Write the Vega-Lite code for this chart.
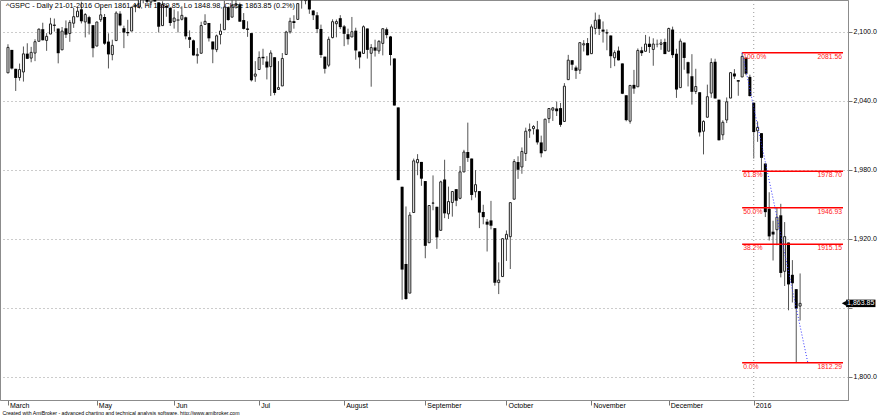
{
 "$schema": "https://vega.github.io/schema/vega-lite/v6.json",
 "width": 848, "height": 400,
 "autosize": "none",
 "padding": {"left": 0, "top": 0, "right": 32, "bottom": 15},
 "background": "white",
 "config": {"view": {"stroke": "#8c8c8c", "strokeWidth": 1}, "font": "Liberation Sans"},
 "datasets": {
  "bars": [
{"i":0,"d":"2015-03-30","o":2064.11,"h":2088.97,"l":2064.11,"c":2086.24},
{"i":1,"d":"2015-03-31","o":2084.05,"h":2084.05,"l":2067.04,"c":2067.89},
{"i":2,"d":"2015-04-01","o":2067.63,"h":2067.63,"l":2048.38,"c":2059.69},
{"i":3,"d":"2015-04-02","o":2060.03,"h":2072.17,"l":2057.32,"c":2066.96},
{"i":4,"d":"2015-04-06","o":2064.87,"h":2086.99,"l":2056.52,"c":2080.62},
{"i":5,"d":"2015-04-07","o":2080.79,"h":2089.81,"l":2076.10,"c":2076.33},
{"i":6,"d":"2015-04-08","o":2076.94,"h":2086.69,"l":2073.30,"c":2081.90},
{"i":7,"d":"2015-04-09","o":2081.29,"h":2093.31,"l":2074.29,"c":2091.18},
{"i":8,"d":"2015-04-10","o":2091.51,"h":2102.61,"l":2091.51,"c":2102.06},
{"i":9,"d":"2015-04-13","o":2102.03,"h":2107.65,"l":2092.33,"c":2092.43},
{"i":10,"d":"2015-04-14","o":2092.28,"h":2098.62,"l":2083.24,"c":2095.84},
{"i":11,"d":"2015-04-15","o":2097.82,"h":2111.91,"l":2097.82,"c":2106.63},
{"i":12,"d":"2015-04-16","o":2105.96,"h":2111.30,"l":2100.02,"c":2104.99},
{"i":13,"d":"2015-04-17","o":2102.58,"h":2102.58,"l":2072.37,"c":2081.18},
{"i":14,"d":"2015-04-20","o":2084.11,"h":2103.94,"l":2084.11,"c":2100.40},
{"i":15,"d":"2015-04-21","o":2102.82,"h":2109.64,"l":2094.38,"c":2097.29},
{"i":16,"d":"2015-04-22","o":2098.27,"h":2109.98,"l":2091.05,"c":2107.96},
{"i":17,"d":"2015-04-23","o":2107.21,"h":2120.49,"l":2103.19,"c":2112.93},
{"i":18,"d":"2015-04-24","o":2112.80,"h":2120.92,"l":2112.80,"c":2117.69},
{"i":19,"d":"2015-04-27","o":2119.29,"h":2125.92,"l":2107.04,"c":2108.92},
{"i":20,"d":"2015-04-28","o":2108.35,"h":2116.04,"l":2094.89,"c":2114.76},
{"i":21,"d":"2015-04-29","o":2112.49,"h":2113.65,"l":2097.41,"c":2106.85},
{"i":22,"d":"2015-04-30","o":2105.52,"h":2105.52,"l":2077.59,"c":2085.51},
{"i":23,"d":"2015-05-01","o":2087.38,"h":2108.41,"l":2087.38,"c":2108.29},
{"i":24,"d":"2015-05-04","o":2110.23,"h":2120.95,"l":2108.29,"c":2114.49},
{"i":25,"d":"2015-05-05","o":2112.63,"h":2115.24,"l":2088.46,"c":2089.46},
{"i":26,"d":"2015-05-06","o":2091.26,"h":2098.42,"l":2067.93,"c":2080.15},
{"i":27,"d":"2015-05-07","o":2079.96,"h":2092.90,"l":2074.99,"c":2088.00},
{"i":28,"d":"2015-05-08","o":2092.13,"h":2117.66,"l":2092.13,"c":2116.10},
{"i":29,"d":"2015-05-11","o":2115.56,"h":2117.69,"l":2104.58,"c":2105.33},
{"i":30,"d":"2015-05-12","o":2102.87,"h":2105.06,"l":2085.57,"c":2099.12},
{"i":31,"d":"2015-05-13","o":2099.62,"h":2110.19,"l":2096.04,"c":2098.48},
{"i":32,"d":"2015-05-14","o":2100.43,"h":2121.45,"l":2100.43,"c":2121.10},
{"i":33,"d":"2015-05-15","o":2122.07,"h":2123.89,"l":2116.81,"c":2122.73},
{"i":34,"d":"2015-05-18","o":2121.30,"h":2131.78,"l":2120.01,"c":2129.20},
{"i":35,"d":"2015-05-19","o":2129.45,"h":2133.02,"l":2124.50,"c":2127.83},
{"i":36,"d":"2015-05-20","o":2127.79,"h":2134.72,"l":2122.59,"c":2125.85},
{"i":37,"d":"2015-05-21","o":2125.55,"h":2134.28,"l":2122.95,"c":2130.82},
{"i":38,"d":"2015-05-22","o":2130.36,"h":2132.15,"l":2126.06,"c":2126.06},
{"i":39,"d":"2015-05-26","o":2125.34,"h":2125.34,"l":2099.18,"c":2104.20},
{"i":40,"d":"2015-05-27","o":2105.13,"h":2126.22,"l":2105.13,"c":2123.48},
{"i":41,"d":"2015-05-28","o":2122.27,"h":2122.27,"l":2112.86,"c":2120.79},
{"i":42,"d":"2015-05-29","o":2120.66,"h":2120.66,"l":2104.89,"c":2107.39},
{"i":43,"d":"2015-06-01","o":2108.64,"h":2119.15,"l":2102.54,"c":2111.73},
{"i":44,"d":"2015-06-02","o":2110.41,"h":2117.59,"l":2099.14,"c":2109.60},
{"i":45,"d":"2015-06-03","o":2110.64,"h":2121.92,"l":2109.61,"c":2114.07},
{"i":46,"d":"2015-06-04","o":2112.35,"h":2112.89,"l":2093.23,"c":2095.84},
{"i":47,"d":"2015-06-05","o":2095.09,"h":2100.99,"l":2085.67,"c":2092.83},
{"i":48,"d":"2015-06-08","o":2092.34,"h":2093.01,"l":2079.11,"c":2079.28},
{"i":49,"d":"2015-06-09","o":2079.07,"h":2085.62,"l":2072.14,"c":2080.15},
{"i":50,"d":"2015-06-10","o":2081.12,"h":2108.50,"l":2081.12,"c":2105.20},
{"i":51,"d":"2015-06-11","o":2106.24,"h":2115.02,"l":2106.24,"c":2108.86},
{"i":52,"d":"2015-06-12","o":2107.43,"h":2107.43,"l":2091.33,"c":2094.11},
{"i":53,"d":"2015-06-15","o":2091.34,"h":2091.34,"l":2072.49,"c":2084.43},
{"i":54,"d":"2015-06-16","o":2084.26,"h":2097.40,"l":2082.10,"c":2096.29},
{"i":55,"d":"2015-06-17","o":2097.40,"h":2106.79,"l":2088.86,"c":2100.44},
{"i":56,"d":"2015-06-18","o":2101.58,"h":2126.65,"l":2101.58,"c":2121.24},
{"i":57,"d":"2015-06-19","o":2121.06,"h":2121.64,"l":2109.45,"c":2109.99},
{"i":58,"d":"2015-06-22","o":2112.50,"h":2129.87,"l":2112.50,"c":2122.85},
{"i":59,"d":"2015-06-23","o":2123.16,"h":2128.03,"l":2119.89,"c":2124.20},
{"i":60,"d":"2015-06-24","o":2123.65,"h":2125.10,"l":2108.58,"c":2108.58},
{"i":61,"d":"2015-06-25","o":2109.96,"h":2116.04,"l":2101.78,"c":2102.31},
{"i":62,"d":"2015-06-26","o":2102.62,"h":2108.92,"l":2095.38,"c":2101.49},
{"i":63,"d":"2015-06-29","o":2098.63,"h":2098.63,"l":2056.64,"c":2057.64},
{"i":64,"d":"2015-06-30","o":2061.19,"h":2074.28,"l":2056.32,"c":2063.11},
{"i":65,"d":"2015-07-01","o":2067.00,"h":2082.78,"l":2067.00,"c":2077.42},
{"i":66,"d":"2015-07-02","o":2078.03,"h":2085.06,"l":2071.02,"c":2076.78},
{"i":67,"d":"2015-07-06","o":2073.95,"h":2078.61,"l":2058.40,"c":2068.76},
{"i":68,"d":"2015-07-07","o":2069.52,"h":2083.74,"l":2044.02,"c":2081.34},
{"i":69,"d":"2015-07-08","o":2077.66,"h":2077.66,"l":2044.66,"c":2046.68},
{"i":70,"d":"2015-07-09","o":2049.73,"h":2074.28,"l":2049.73,"c":2051.31},
{"i":71,"d":"2015-07-10","o":2052.74,"h":2081.31,"l":2052.74,"c":2076.62},
{"i":72,"d":"2015-07-13","o":2080.03,"h":2100.67,"l":2080.03,"c":2099.60},
{"i":73,"d":"2015-07-14","o":2099.72,"h":2111.98,"l":2098.18,"c":2108.95},
{"i":74,"d":"2015-07-15","o":2109.01,"h":2114.14,"l":2102.49,"c":2107.40},
{"i":75,"d":"2015-07-16","o":2110.55,"h":2124.42,"l":2110.55,"c":2124.29},
{"i":76,"d":"2015-07-17","o":2126.80,"h":2128.91,"l":2119.88,"c":2126.64},
{"i":77,"d":"2015-07-20","o":2126.85,"h":2132.82,"l":2123.66,"c":2128.28},
{"i":78,"d":"2015-07-21","o":2127.55,"h":2128.48,"l":2115.40,"c":2119.21},
{"i":79,"d":"2015-07-22","o":2118.21,"h":2118.51,"l":2110.00,"c":2114.15},
{"i":80,"d":"2015-07-23","o":2114.16,"h":2116.87,"l":2098.63,"c":2102.15},
{"i":81,"d":"2015-07-24","o":2102.24,"h":2106.01,"l":2077.09,"c":2079.65},
{"i":82,"d":"2015-07-27","o":2078.19,"h":2078.19,"l":2063.52,"c":2067.64},
{"i":83,"d":"2015-07-28","o":2070.75,"h":2095.60,"l":2069.09,"c":2093.25},
{"i":84,"d":"2015-07-29","o":2094.70,"h":2110.60,"l":2094.08,"c":2108.57},
{"i":85,"d":"2015-07-30","o":2106.78,"h":2110.48,"l":2094.97,"c":2108.63},
{"i":86,"d":"2015-07-31","o":2111.60,"h":2114.24,"l":2102.07,"c":2103.84},
{"i":87,"d":"2015-08-03","o":2104.49,"h":2105.70,"l":2087.31,"c":2098.04},
{"i":88,"d":"2015-08-04","o":2097.68,"h":2102.51,"l":2088.60,"c":2093.32},
{"i":89,"d":"2015-08-05","o":2095.27,"h":2112.66,"l":2095.27,"c":2099.84},
{"i":90,"d":"2015-08-06","o":2100.75,"h":2103.32,"l":2075.53,"c":2083.56},
{"i":91,"d":"2015-08-07","o":2082.61,"h":2082.61,"l":2067.91,"c":2077.57},
{"i":92,"d":"2015-08-10","o":2080.98,"h":2105.35,"l":2080.98,"c":2104.18},
{"i":93,"d":"2015-08-11","o":2102.66,"h":2102.66,"l":2076.49,"c":2084.07},
{"i":94,"d":"2015-08-12","o":2081.10,"h":2089.06,"l":2052.09,"c":2086.05},
{"i":95,"d":"2015-08-13","o":2086.19,"h":2092.93,"l":2078.26,"c":2083.39},
{"i":96,"d":"2015-08-14","o":2083.15,"h":2092.45,"l":2080.61,"c":2091.54},
{"i":97,"d":"2015-08-17","o":2089.70,"h":2102.87,"l":2079.30,"c":2102.44},
{"i":98,"d":"2015-08-18","o":2101.99,"h":2103.47,"l":2094.14,"c":2096.92},
{"i":99,"d":"2015-08-19","o":2095.69,"h":2096.17,"l":2070.53,"c":2079.61},
{"i":100,"d":"2015-08-20","o":2076.61,"h":2076.61,"l":2035.73,"c":2035.73},
{"i":101,"d":"2015-08-21","o":2034.08,"h":2034.08,"l":1970.89,"c":1970.89},
{"i":102,"d":"2015-08-24","o":1965.15,"h":1965.15,"l":1867.01,"c":1893.21},
{"i":103,"d":"2015-08-25","o":1898.08,"h":1948.04,"l":1867.08,"c":1867.61},
{"i":104,"d":"2015-08-26","o":1872.75,"h":1943.09,"l":1872.75,"c":1940.51},
{"i":105,"d":"2015-08-27","o":1942.77,"h":1989.60,"l":1942.77,"c":1987.66},
{"i":106,"d":"2015-08-28","o":1986.06,"h":1993.48,"l":1975.19,"c":1988.87},
{"i":107,"d":"2015-08-31","o":1986.73,"h":1986.73,"l":1965.98,"c":1972.18},
{"i":108,"d":"2015-09-01","o":1970.09,"h":1970.09,"l":1903.07,"c":1913.85},
{"i":109,"d":"2015-09-02","o":1916.52,"h":1948.91,"l":1916.52,"c":1948.86},
{"i":110,"d":"2015-09-03","o":1950.79,"h":1975.01,"l":1944.72,"c":1951.13},
{"i":111,"d":"2015-09-04","o":1947.76,"h":1947.76,"l":1911.21,"c":1921.22},
{"i":112,"d":"2015-09-08","o":1927.30,"h":1970.42,"l":1927.30,"c":1969.41},
{"i":113,"d":"2015-09-09","o":1971.45,"h":1988.63,"l":1937.88,"c":1942.04},
{"i":114,"d":"2015-09-10","o":1941.59,"h":1965.29,"l":1937.19,"c":1952.29},
{"i":115,"d":"2015-09-11","o":1951.45,"h":1961.05,"l":1939.19,"c":1961.05},
{"i":116,"d":"2015-09-14","o":1963.06,"h":1963.06,"l":1948.27,"c":1953.03},
{"i":117,"d":"2015-09-15","o":1955.10,"h":1983.19,"l":1954.30,"c":1978.09},
{"i":118,"d":"2015-09-16","o":1978.02,"h":1997.26,"l":1977.93,"c":1995.31},
{"i":119,"d":"2015-09-17","o":1995.33,"h":2020.86,"l":1986.73,"c":1990.20},
{"i":120,"d":"2015-09-18","o":1989.66,"h":1989.66,"l":1953.45,"c":1958.03},
{"i":121,"d":"2015-09-21","o":1960.84,"h":1979.64,"l":1955.80,"c":1966.97},
{"i":122,"d":"2015-09-22","o":1961.39,"h":1961.39,"l":1929.22,"c":1942.74},
{"i":123,"d":"2015-09-23","o":1943.24,"h":1949.52,"l":1932.57,"c":1938.76},
{"i":124,"d":"2015-09-24","o":1934.81,"h":1937.17,"l":1908.92,"c":1932.24},
{"i":125,"d":"2015-09-25","o":1935.93,"h":1952.89,"l":1928.11,"c":1931.34},
{"i":126,"d":"2015-09-28","o":1929.18,"h":1929.18,"l":1879.21,"c":1881.77},
{"i":127,"d":"2015-09-29","o":1881.90,"h":1899.48,"l":1871.91,"c":1884.09},
{"i":128,"d":"2015-09-30","o":1887.14,"h":1920.53,"l":1887.14,"c":1920.03},
{"i":129,"d":"2015-10-01","o":1919.65,"h":1927.21,"l":1900.70,"c":1923.82},
{"i":130,"d":"2015-10-02","o":1921.77,"h":1951.36,"l":1893.70,"c":1951.36},
{"i":131,"d":"2015-10-05","o":1954.33,"h":1989.17,"l":1954.33,"c":1987.05},
{"i":132,"d":"2015-10-06","o":1986.63,"h":1991.62,"l":1971.99,"c":1979.92},
{"i":133,"d":"2015-10-07","o":1982.34,"h":1999.31,"l":1976.44,"c":1995.83},
{"i":134,"d":"2015-10-08","o":1994.01,"h":2016.50,"l":1987.53,"c":2013.43},
{"i":135,"d":"2015-10-09","o":2013.73,"h":2020.13,"l":2007.61,"c":2014.89},
{"i":136,"d":"2015-10-12","o":2015.65,"h":2018.66,"l":2010.55,"c":2017.46},
{"i":137,"d":"2015-10-13","o":2015.00,"h":2022.34,"l":2001.78,"c":2003.69},
{"i":138,"d":"2015-10-14","o":2003.66,"h":2009.56,"l":1990.73,"c":1994.24},
{"i":139,"d":"2015-10-15","o":1996.47,"h":2024.15,"l":1996.47,"c":2023.86},
{"i":140,"d":"2015-10-16","o":2024.37,"h":2033.54,"l":2020.46,"c":2033.11},
{"i":141,"d":"2015-10-19","o":2031.73,"h":2034.45,"l":2022.31,"c":2033.66},
{"i":142,"d":"2015-10-20","o":2033.13,"h":2039.12,"l":2026.61,"c":2030.77},
{"i":143,"d":"2015-10-21","o":2033.47,"h":2037.97,"l":2017.22,"c":2018.94},
{"i":144,"d":"2015-10-22","o":2021.88,"h":2055.20,"l":2021.88,"c":2052.51},
{"i":145,"d":"2015-10-23","o":2058.19,"h":2079.74,"l":2058.19,"c":2075.15},
{"i":146,"d":"2015-10-26","o":2075.08,"h":2075.14,"l":2066.53,"c":2071.18},
{"i":147,"d":"2015-10-27","o":2068.75,"h":2070.37,"l":2058.84,"c":2065.89},
{"i":148,"d":"2015-10-28","o":2066.48,"h":2090.35,"l":2063.11,"c":2090.35},
{"i":149,"d":"2015-10-29","o":2088.35,"h":2092.52,"l":2082.63,"c":2089.41},
{"i":150,"d":"2015-10-30","o":2090.00,"h":2094.32,"l":2079.34,"c":2079.36},
{"i":151,"d":"2015-11-02","o":2080.76,"h":2106.20,"l":2080.76,"c":2104.05},
{"i":152,"d":"2015-11-03","o":2102.63,"h":2116.48,"l":2097.51,"c":2109.79},
{"i":153,"d":"2015-11-04","o":2110.60,"h":2114.59,"l":2096.98,"c":2102.31},
{"i":154,"d":"2015-11-05","o":2101.68,"h":2108.78,"l":2090.41,"c":2099.93},
{"i":155,"d":"2015-11-06","o":2098.60,"h":2101.91,"l":2083.74,"c":2099.20},
{"i":156,"d":"2015-11-09","o":2096.56,"h":2096.56,"l":2068.24,"c":2078.58},
{"i":157,"d":"2015-11-10","o":2077.19,"h":2083.67,"l":2069.91,"c":2081.72},
{"i":158,"d":"2015-11-11","o":2083.41,"h":2086.94,"l":2074.85,"c":2075.00},
{"i":159,"d":"2015-11-12","o":2072.29,"h":2072.29,"l":2045.66,"c":2045.97},
{"i":160,"d":"2015-11-13","o":2044.64,"h":2044.64,"l":2022.02,"c":2023.04},
{"i":161,"d":"2015-11-16","o":2022.08,"h":2053.22,"l":2019.94,"c":2053.19},
{"i":162,"d":"2015-11-17","o":2053.67,"h":2066.69,"l":2045.90,"c":2050.44},
{"i":163,"d":"2015-11-18","o":2051.99,"h":2085.31,"l":2051.99,"c":2083.58},
{"i":164,"d":"2015-11-19","o":2083.70,"h":2086.74,"l":2078.76,"c":2081.24},
{"i":165,"d":"2015-11-20","o":2082.82,"h":2097.06,"l":2082.82,"c":2089.17},
{"i":166,"d":"2015-11-23","o":2089.41,"h":2095.61,"l":2081.39,"c":2086.59},
{"i":167,"d":"2015-11-24","o":2084.42,"h":2094.12,"l":2070.29,"c":2089.14},
{"i":168,"d":"2015-11-25","o":2089.30,"h":2093.00,"l":2086.30,"c":2088.87},
{"i":169,"d":"2015-11-27","o":2088.82,"h":2093.29,"l":2084.13,"c":2090.11},
{"i":170,"d":"2015-11-30","o":2090.95,"h":2093.81,"l":2080.41,"c":2080.41},
{"i":171,"d":"2015-12-01","o":2082.93,"h":2103.37,"l":2082.93,"c":2102.63},
{"i":172,"d":"2015-12-02","o":2101.71,"h":2104.27,"l":2077.11,"c":2079.51},
{"i":173,"d":"2015-12-03","o":2080.71,"h":2085.00,"l":2042.35,"c":2049.62},
{"i":174,"d":"2015-12-04","o":2051.24,"h":2093.84,"l":2051.24,"c":2091.69},
{"i":175,"d":"2015-12-07","o":2090.42,"h":2090.42,"l":2066.78,"c":2077.07},
{"i":176,"d":"2015-12-08","o":2073.39,"h":2073.85,"l":2052.32,"c":2063.59},
{"i":177,"d":"2015-12-09","o":2061.17,"h":2080.33,"l":2036.53,"c":2047.62},
{"i":178,"d":"2015-12-10","o":2047.93,"h":2067.65,"l":2045.67,"c":2052.23},
{"i":179,"d":"2015-12-11","o":2047.27,"h":2047.27,"l":2008.80,"c":2012.37},
{"i":180,"d":"2015-12-14","o":2013.37,"h":2022.92,"l":1993.26,"c":2021.94},
{"i":181,"d":"2015-12-15","o":2025.55,"h":2053.87,"l":2025.55,"c":2043.41},
{"i":182,"d":"2015-12-16","o":2046.50,"h":2076.72,"l":2042.43,"c":2073.07},
{"i":183,"d":"2015-12-17","o":2073.76,"h":2076.37,"l":2041.66,"c":2041.89},
{"i":184,"d":"2015-12-18","o":2040.81,"h":2040.81,"l":2005.33,"c":2005.55},
{"i":185,"d":"2015-12-21","o":2010.27,"h":2022.90,"l":2005.93,"c":2021.15},
{"i":186,"d":"2015-12-22","o":2023.15,"h":2042.74,"l":2020.49,"c":2038.97},
{"i":187,"d":"2015-12-23","o":2042.20,"h":2064.73,"l":2042.20,"c":2064.29},
{"i":188,"d":"2015-12-24","o":2063.52,"h":2067.36,"l":2058.73,"c":2060.99},
{"i":189,"d":"2015-12-28","o":2057.77,"h":2057.77,"l":2044.20,"c":2056.50},
{"i":190,"d":"2015-12-29","o":2060.54,"h":2081.56,"l":2060.54,"c":2078.36},
{"i":191,"d":"2015-12-30","o":2077.34,"h":2077.34,"l":2061.97,"c":2063.36},
{"i":192,"d":"2015-12-31","o":2060.59,"h":2062.54,"l":2043.62,"c":2043.94},
{"i":193,"d":"2016-01-04","o":2038.20,"h":2038.20,"l":1989.68,"c":2012.66},
{"i":194,"d":"2016-01-05","o":2013.78,"h":2021.94,"l":2004.17,"c":2016.71},
{"i":195,"d":"2016-01-06","o":2011.71,"h":2011.71,"l":1979.05,"c":1990.26},
{"i":196,"d":"2016-01-07","o":1985.32,"h":1985.32,"l":1938.83,"c":1943.09},
{"i":197,"d":"2016-01-08","o":1945.97,"h":1960.40,"l":1918.46,"c":1922.03},
{"i":198,"d":"2016-01-11","o":1926.12,"h":1935.65,"l":1901.10,"c":1923.67},
{"i":199,"d":"2016-01-12","o":1927.83,"h":1947.38,"l":1914.35,"c":1938.68},
{"i":200,"d":"2016-01-13","o":1940.34,"h":1950.33,"l":1886.41,"c":1890.28},
{"i":201,"d":"2016-01-14","o":1891.68,"h":1934.47,"l":1878.93,"c":1921.84},
{"i":202,"d":"2016-01-15","o":1916.68,"h":1916.68,"l":1857.83,"c":1880.33},
{"i":203,"d":"2016-01-19","o":1888.66,"h":1901.44,"l":1864.60,"c":1881.33},
{"i":204,"d":"2016-01-20","o":1876.18,"h":1876.18,"l":1812.29,"c":1859.33},
{"i":205,"d":"2016-01-21","o":1861.46,"h":1889.85,"l":1848.98,"c":1863.85}
  ],
  "fib": [
   {"level": 2081.56, "pct": "100.0%"},
   {"level": 1978.70, "pct": "61.8%"},
   {"level": 1946.93, "pct": "50.0%"},
   {"level": 1915.15, "pct": "38.2%"},
   {"level": 1812.29, "pct": "0.0%"}
  ],
  "trend": [{"i": 190, "v": 2081.56}, {"i": 207, "v": 1812.29}],
  "years": [{"i": 193, "label": "2016"}],
  "last": [{"v": 1863.85}],
  "head": [{"t": "^GSPC - Daily 21-01-2016 Open 1861.46, Hi 1889.85, Lo 1848.98, Close 1863.85 (0.2%)"}]
 },
 "layer": [
  {
   "data": {"name": "bars"},
   "mark": {"type": "rule", "color": "#555555", "strokeWidth": 1, "clip": true},
   "encoding": {
    "x": {"field": "i", "type": "quantitative",
     "scale": {"domain": [-0.77, 216.1], "nice": false, "zero": false},
     "axis": {"orient": "bottom", "values": [0, 23, 43, 65, 87, 108, 129, 151, 171, 193],
      "labelExpr": "['March','May','Jun','Jul','August','September','October','November','December','2016'][indexof([0,23,43,65,87,108,129,151,171,193], datum.value)]",
      "labelAlign": "left", "labelBaseline": "top", "labelFontSize": 7, "labelColor": "#000000",
      "labelPadding": -3.5, "labelOffset": 1.5, "labelFlush": false, "labelOverlap": false,
      "tickSize": 5, "tickColor": "#777777", "domainColor": "#8c8c8c", "grid": false,
      "title": "Created with AmiBroker - advanced charting and technical analysis software. http://www.amibroker.com",
      "titleFontSize": 5.2, "titleFontWeight": "normal", "titleColor": "#000000",
      "titleAnchor": "start", "titleAlign": "left", "titleBaseline": "alphabetic", "titleX": 2, "titleY": 14}},
    "y": {"field": "l", "type": "quantitative",
     "scale": {"domain": [1779.9, 2127.4], "nice": false, "zero": false},
     "axis": {"orient": "right", "values": [1800, 1860, 1920, 1980, 2040, 2100],
      "labelExpr": "datum.value == 1860 ? '' : format(datum.value, ',.1f')",
      "labelFontSize": 7, "labelColor": "#000000", "labelPadding": 1, "labelBaseline": "middle",
      "tickSize": 4, "tickColor": "#777777", "domainColor": "#8c8c8c",
      "grid": true, "gridColor": "#999999", "gridDash": [1, 3], "gridWidth": 1, "title": null}},
    "y2": {"field": "h"}
   }
  },
  {
   "data": {"name": "years"},
   "mark": {"type": "rule", "color": "#999999", "strokeDash": [1, 3], "strokeWidth": 1},
   "encoding": {"x": {"field": "i", "type": "quantitative"}}
  },
  {
   "data": {"name": "bars"},
   "transform": [{"filter": "datum.c < datum.o"}],
   "mark": {"type": "bar", "size": 3, "color": "#000000", "clip": true},
   "encoding": {
    "x": {"field": "i", "type": "quantitative"},
    "y": {"field": "o", "type": "quantitative"},
    "y2": {"field": "c"}
   }
  },
  {
   "data": {"name": "bars"},
   "transform": [{"filter": "datum.c >= datum.o"}],
   "mark": {"type": "bar", "size": 2, "fill": "#ffffff", "stroke": "#222222", "strokeWidth": 1, "clip": true},
   "encoding": {
    "x": {"field": "i", "type": "quantitative"},
    "y": {"field": "o", "type": "quantitative"},
    "y2": {"field": "c"}
   }
  },
  {
   "data": {"name": "fib"},
   "mark": {"type": "rule", "color": "#ff0000", "strokeWidth": 1.5},
   "encoding": {
    "x": {"datum": 190, "type": "quantitative"},
    "x2": {"datum": 216.1},
    "y": {"field": "level", "type": "quantitative"}
   }
  },
  {
   "data": {"name": "trend"},
   "mark": {"type": "line", "color": "#3333ff", "strokeDash": [1, 2], "strokeWidth": 1},
   "encoding": {
    "x": {"field": "i", "type": "quantitative"},
    "y": {"field": "v", "type": "quantitative"}
   }
  },
  {
   "data": {"name": "fib"},
   "mark": {"type": "text", "color": "#ff2020", "fontSize": 6.8, "align": "left", "baseline": "top", "dx": 1, "dy": 1},
   "encoding": {
    "x": {"datum": 190, "type": "quantitative"},
    "y": {"field": "level", "type": "quantitative"},
    "text": {"field": "pct"}
   }
  },
  {
   "data": {"name": "fib"},
   "mark": {"type": "text", "color": "#ff2020", "fontSize": 6.8, "align": "right", "baseline": "top", "dx": -1, "dy": 1},
   "encoding": {
    "x": {"datum": 216.1, "type": "quantitative"},
    "y": {"field": "level", "type": "quantitative"},
    "text": {"field": "level", "format": ".2f"}
   }
  },
  {
   "data": {"name": "head"},
   "mark": {"type": "text", "color": "#000000", "fontSize": 7.3, "align": "left", "baseline": "top", "dx": 1, "dy": 2},
   "encoding": {
    "x": {"datum": -0.77, "type": "quantitative"},
    "y": {"datum": 2127.4, "type": "quantitative"},
    "text": {"field": "t"}
   }
  },
  {
   "data": {"name": "last"},
   "mark": {"type": "point", "shape": "triangle-left", "size": 30, "filled": true, "color": "#000000", "opacity": 1, "clip": false},
   "encoding": {
    "x": {"datum": 216.4, "type": "quantitative"},
    "y": {"field": "v", "type": "quantitative"}
   }
  },
  {
   "data": {"name": "last"},
   "mark": {"type": "rect", "color": "#000000", "clip": false},
   "encoding": {
    "x": {"datum": 216.9, "type": "quantitative"},
    "x2": {"datum": 224.5},
    "y": {"datum": 1860.6, "type": "quantitative"},
    "y2": {"datum": 1867.1}
   }
  },
  {
   "data": {"name": "last"},
   "mark": {"type": "text", "color": "#ffffff", "fontSize": 7, "align": "left", "baseline": "middle", "dx": 1, "clip": false},
   "encoding": {
    "x": {"datum": 216.9, "type": "quantitative"},
    "y": {"field": "v", "type": "quantitative"},
    "text": {"field": "v", "format": ",.2f"}
   }
  }
 ]
}
